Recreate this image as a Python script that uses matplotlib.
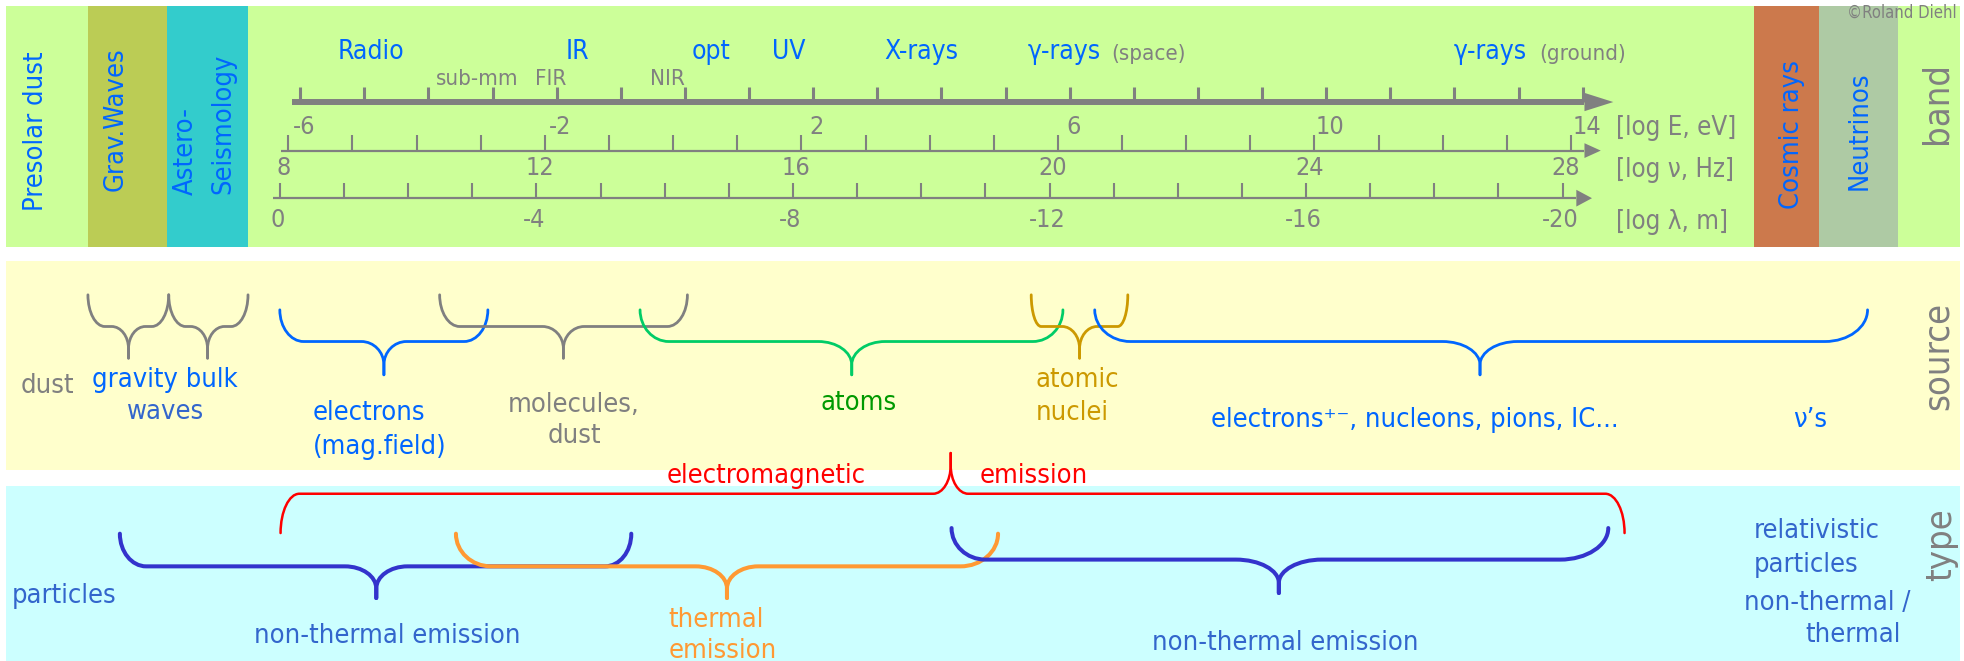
import matplotlib
matplotlib.use("Agg")
import matplotlib.pyplot as plt
from matplotlib import font_manager as fm
from matplotlib.path import Path
from matplotlib.patches import PathPatch, Rectangle, Polygon

plt.rcParams['font.family'] = ['DejaVu Sans']
# the slide font is narrow (Tahoma-like); use the condensed DejaVu cut when it exists
COND = 'Condensed' in fm.findfont(fm.FontProperties(family='DejaVu Sans', stretch='condensed'))
if COND:
    plt.rcParams['font.stretch'] = 'condensed'
K = 1.0 if COND else 0.9

# ---------------- data ----------------
logE_ticks = list(range(-6, 15))
logE_labels = [-6, -2, 2, 6, 10, 14]
lognu_ticks = list(range(8, 29))
lognu_labels = [8, 12, 16, 20, 24, 28]
loglam_ticks = list(range(0, -21, -1))
loglam_labels = [0, -4, -8, -12, -16, -20]
axis_units = ['[log E, eV]', '[log ν, Hz]', '[log λ, m]']

bands = ['Radio', 'IR', 'opt', 'UV', 'X-rays', 'γ-rays', 'γ-rays']
band_logE = [-4.9, -1.68, 0.41, 1.62, 3.68, 5.92, 12.56]
notes = ['(space)', '(ground)']
notes_logE = [7.23, 14.0]
sub_bands = ['sub-mm', 'FIR', 'NIR']
sub_logE = [-3.24, -2.09, -0.27]

# colours
GREEN_BG = '#CCFF99'
YELLOW_BG = '#FFFFCC'
CYAN_BG = '#CCFFFF'
BLUE = '#0066FF'
BLUE2 = '#3366CC'
GREY = '#808080'

FS = 19.5 * K      # main labels
FS_BAND = 19 * K
FS_SMALL = 16 * K
FS_TICK = 18 * K
FS_UNIT = 18.5 * K
FS_BIG = 26 * K

# ---------------- figure ----------------
fig = plt.figure(figsize=(19.64, 6.61), dpi=100)
ax = fig.add_axes([0, 0, 1, 1])
ax.set_xlim(0, 1568)
ax.set_ylim(528, 0)
ax.axis('off')

# panels
ax.add_patch(Rectangle((5, 5), 1560, 192, fc=GREEN_BG, ec='none'))
ax.add_patch(Rectangle((5, 208.5), 1560, 167, fc=YELLOW_BG, ec='none'))
ax.add_patch(Rectangle((5, 388), 1560, 145, fc=CYAN_BG, ec='none'))
ax.add_patch(Rectangle((70, 5), 63.5, 192, fc='#BBCC55', ec='none'))
ax.add_patch(Rectangle((133.5, 5), 64.5, 192, fc='#33CCCC', ec='none'))
ax.add_patch(Rectangle((1400, 5), 52, 192, fc='#CC794C', ec='none'))
ax.add_patch(Rectangle((1452, 5), 63.5, 192, fc='#AECAA4', ec='none'))

# vertical band names
ax.text(28.6, 105, 'Presolar dust', rotation=90, ha='center', va='center', color=BLUE, fontsize=FS)
ax.text(92, 95.5, 'Grav.Waves', rotation=90, ha='center', va='center', color=BLUE, fontsize=FS)
ax.text(148, 121, 'Astero-', rotation=90, ha='center', va='center', color=BLUE, fontsize=FS)
ax.text(178, 98.5, 'Seismology', rotation=90, ha='center', va='center', color=BLUE, fontsize=FS)
ax.text(1431, 107.5, 'Cosmic rays', rotation=90, ha='center', va='center', color=BLUE, fontsize=FS)
ax.text(1485, 104.5, 'Neutrinos', rotation=90, ha='center', va='center', color=BLUE, fontsize=FS)
ax.text(1546, 82.5, 'band', rotation=90, ha='center', va='center', color=GREY, fontsize=FS_BIG)
ax.text(1547, 284.7, 'source', rotation=90, ha='center', va='center', color=GREY, fontsize=FS_BIG)
ax.text(1549.6, 435, 'type', rotation=90, ha='center', va='center', color=GREY, fontsize=FS_BIG)
ax.text(1562, 10.5, '©Roland Diehl', ha='right', va='center', color=GREY, fontsize=12 * K)


# ---------------- scales ----------------
def xE(v):
    return 239.6 + (v + 6) * 51.2


def xnu(v):
    return 230.2 + (v - 8) * 51.2


def xlam(v):
    return 223.5 - v * 51.2


def draw_axis(xf, ticks, labels, y, ytick, x0, xb, xtip, hh, lw, tlw, ylab, dx):
    ax.plot([x0, xb], [y, y], color=GREY, lw=lw, solid_capstyle='butt')
    ax.add_patch(Polygon([(xb, y - hh), (xtip, y), (xb, y + hh)], closed=True, fc=GREY, ec='none'))
    for t in ticks:
        ax.plot([xf(t), xf(t)], [ytick, y], color=GREY, lw=tlw, solid_capstyle='butt')
    for t in labels:
        ax.text(xf(t) + dx, ylab, str(t), ha='center', va='center', color=GREY, fontsize=FS_TICK)


draw_axis(xE, logE_ticks, logE_labels, 81.5, 69.7, 233.5, 1265, 1288, 7.3, 4.3, 2.2, 101.3, 3)
draw_axis(xnu, lognu_ticks, lognu_labels, 120.3, 107.8, 224.4, 1265, 1278, 5.9, 1.6, 1.5, 134.4, -4)
draw_axis(xlam, loglam_ticks, loglam_labels, 158.3, 146.4, 217.7, 1258.5, 1271, 6.7, 1.6, 1.5, 175.6, -2)
for yy, u in zip([102.6, 136, 177], axis_units):
    ax.text(1290, yy, u, ha='left', va='center', color=GREY, fontsize=FS_UNIT)

# band names along log E
for name, e in zip(bands, band_logE):
    ax.text(xE(e), 41.5, name, ha='center', va='center', color=BLUE, fontsize=FS_BAND)
for n, e in zip(notes, notes_logE):
    ax.text(xE(e), 43, n, ha='center', va='center', color=GREY, fontsize=FS_SMALL)
for n, e in zip(sub_bands, sub_logE):
    ax.text(xE(e), 63.5, n, ha='center', va='center', color=GREY, fontsize=FS_SMALL)


# ---------------- braces ----------------
def brace(x0, x1, xt, y_end, y_mid, y_tip, rx0, rx1, rxt, color, lw, drop=0.7):
    k = 0.5523
    ct = (y_tip - y_mid) * drop
    for xe, rx, s in ((x0, rx0, 1), (x1, rx1, -1)):
        verts = [(xe, y_end),
                 (xe, y_end + k * (y_mid - y_end)), (xe + s * rx * (1 - k), y_mid), (xe + s * rx, y_mid),
                 (xt - s * rxt, y_mid),
                 (xt - s * rxt * (1 - k), y_mid), (xt, y_mid + ct * (1 - k)), (xt, y_mid + ct),
                 (xt, y_tip)]
        codes = [Path.MOVETO, Path.CURVE4, Path.CURVE4, Path.CURVE4, Path.LINETO,
                 Path.CURVE4, Path.CURVE4, Path.CURVE4, Path.LINETO]
        ax.add_patch(PathPatch(Path(verts, codes), fill=False, ec=color, lw=lw,
                               capstyle='round', joinstyle='round'))


# source panel
brace(70.2, 134.7, 102.6, 235.5, 260.8, 286.1, 13.5, 13.5, 13.5, GREY, 2)
brace(134.7, 198, 165.7, 235.5, 260.8, 286.1, 13.5, 13.5, 13.5, GREY, 2)
brace(223.4, 389.5, 306.5, 247.5, 272.8, 299.4, 19, 19, 18, '#0066FF', 2)
brace(351, 548.8, 449.8, 235.5, 260.8, 286.1, 16, 16, 16.7, GREY, 2)
brace(511, 848.6, 680, 247.5, 272.8, 299.4, 23, 24, 26.7, '#00CC66', 2)
brace(823.3, 900.4, 861.9, 235.5, 260.8, 286.1, 8, 8, 14, '#CC9900', 2)
brace(874, 1491, 1181.6, 247.5, 272.8, 299.4, 28.5, 34, 30, '#0066FF', 2)

# type panel
brace(224, 1297, 759, 425.8, 394.4, 361.9, 15, 15.4, 14, '#FF0000', 1.8)
brace(95.7, 504, 300.4, 426.3, 452.4, 477.7, 21, 21, 25, '#3333CC', 2.9)
brace(364, 796.8, 580.4, 426.3, 452.4, 477.7, 28, 30, 25, '#FF9933', 2.9)
brace(759.7, 1284, 1021, 421.8, 447, 473.7, 27, 38.5, 34.4, '#3333CC', 2.9)

# ---------------- source texts ----------------
ax.text(38, 308.7, 'dust', ha='center', va='center', color=GREY, fontsize=FS)
ax.text(132, 303.4, 'gravity bulk', ha='center', va='center', color=BLUE, fontsize=FS)
ax.text(132, 328.8, 'waves', ha='center', va='center', color=BLUE2, fontsize=FS)
ax.text(249.5, 330, 'electrons', ha='left', va='center', color=BLUE, fontsize=FS)
ax.text(249.5, 357, '(mag.field)', ha='left', va='center', color=BLUE, fontsize=FS)
ax.text(458, 323.3, 'molecules,', ha='center', va='center', color=GREY, fontsize=FS)
ax.text(458.8, 348.6, 'dust', ha='center', va='center', color=GREY, fontsize=FS)
ax.text(685.5, 322, 'atoms', ha='center', va='center', color='#009900', fontsize=FS)
ax.text(827, 303.4, 'atomic', ha='left', va='center', color='#CC9900', fontsize=FS)
ax.text(827, 330, 'nuclei', ha='left', va='center', color='#CC9900', fontsize=FS)
ax.text(967, 335.3, 'electrons⁺⁻, nucleons, pions, IC...', ha='left', va='center', color=BLUE, fontsize=FS)
ax.text(1445, 335.3, 'ν’s', ha='center', va='center', color=BLUE, fontsize=FS)

ax.text(612, 380, 'electromagnetic', ha='center', va='center', color='#FF0000', fontsize=FS)
ax.text(825, 380, 'emission', ha='center', va='center', color='#FF0000', fontsize=FS)

# ---------------- type texts ----------------
ax.text(51, 476.4, 'particles', ha='center', va='center', color=BLUE2, fontsize=FS)
ax.text(309, 508.3, 'non-thermal emission', ha='center', va='center', color=BLUE2, fontsize=FS)
ax.text(534, 495, 'thermal', ha='left', va='center', color='#FF9933', fontsize=FS)
ax.text(534, 520.3, 'emission', ha='left', va='center', color='#FF9933', fontsize=FS)
ax.text(1026, 513.6, 'non-thermal emission', ha='center', va='center', color=BLUE2, fontsize=FS)
ax.text(1400, 424.5, 'relativistic', ha='left', va='center', color=BLUE2, fontsize=FS)
ax.text(1400, 451, 'particles', ha='left', va='center', color=BLUE2, fontsize=FS)
ax.text(1392, 481.6, 'non-thermal /', ha='left', va='center', color=BLUE2, fontsize=FS)
ax.text(1441, 507, 'thermal', ha='left', va='center', color=BLUE2, fontsize=FS)

fig.savefig('out.png', dpi=100)
